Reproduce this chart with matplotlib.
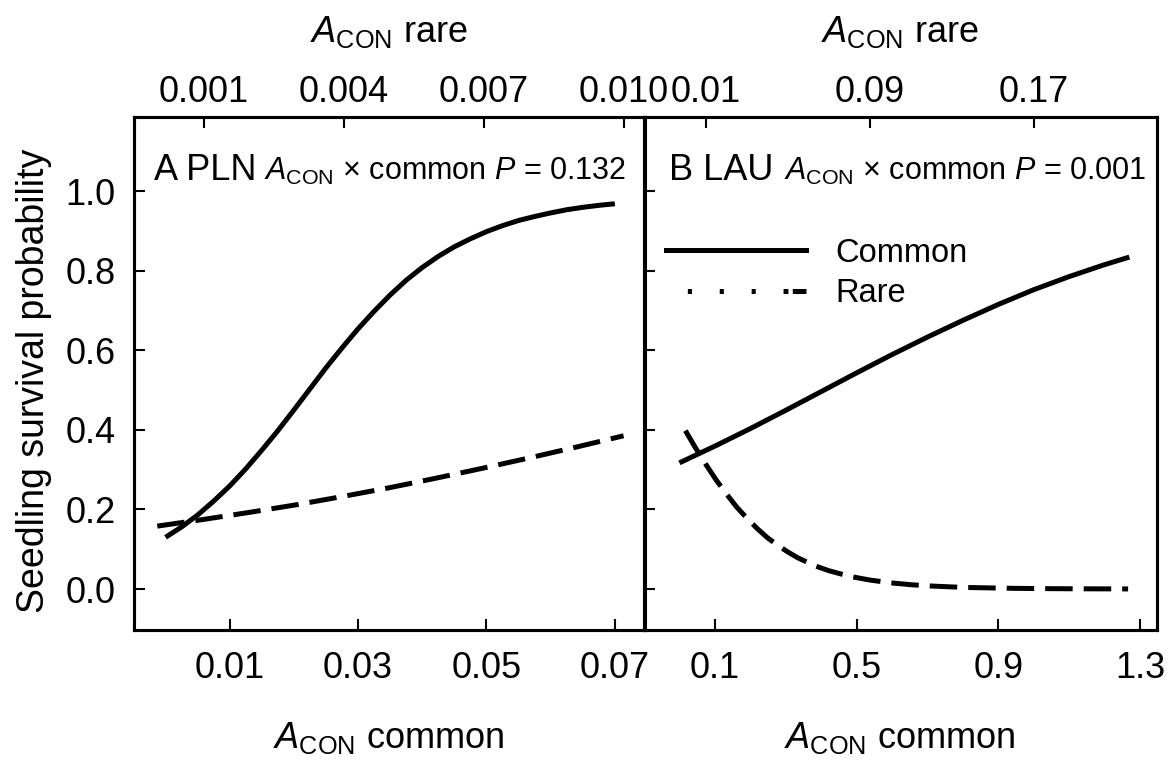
import numpy as np
import matplotlib.pyplot as plt
from matplotlib.lines import Line2D

plt.rcParams['font.family'] = ['Liberation Sans', 'DejaVu Sans']
plt.rcParams['mathtext.fontset'] = 'custom'
plt.rcParams['mathtext.rm'] = 'Liberation Sans'
plt.rcParams['mathtext.it'] = 'Liberation Sans:italic'

# Panel A (PLN) - predicted survival
pln_common_x = [0.0, 0.0025, 0.005, 0.0075, 0.01, 0.0125, 0.015, 0.0175, 0.02, 0.0225,
                0.025, 0.0275, 0.03, 0.0325, 0.035, 0.0375, 0.04, 0.0425, 0.045, 0.0475,
                0.05, 0.0525, 0.055, 0.0575, 0.06, 0.0625, 0.065, 0.0675, 0.07]
pln_common_y = [0.130, 0.156, 0.186, 0.221, 0.259, 0.302, 0.349, 0.398, 0.450, 0.503,
                0.556, 0.606, 0.654, 0.698, 0.739, 0.776, 0.808, 0.836, 0.860, 0.880,
                0.898, 0.913, 0.926, 0.936, 0.945, 0.953, 0.959, 0.964, 0.968]
pln_rare_x = [0.0, 0.001, 0.002, 0.003, 0.004, 0.005, 0.006, 0.007, 0.008, 0.009, 0.010]
pln_rare_y = [0.158, 0.175, 0.193, 0.212, 0.233, 0.255, 0.279, 0.304, 0.330, 0.357, 0.385]

# Panel B (LAU)
lau_common_x = [0.0, 0.1, 0.2, 0.3, 0.4, 0.5, 0.6, 0.7, 0.8, 0.9, 1.0, 1.1, 1.2, 1.27]
lau_common_y = [0.317, 0.359, 0.403, 0.449, 0.496, 0.543, 0.589, 0.633, 0.675, 0.715, 0.752, 0.785, 0.815, 0.834]
lau_rare_x = [0.0, 0.005, 0.01, 0.015, 0.02, 0.025, 0.03, 0.035, 0.04, 0.045, 0.05, 0.055,
              0.06, 0.065, 0.07, 0.075, 0.08, 0.09, 0.10, 0.11, 0.12, 0.13, 0.14,
              0.16, 0.18, 0.20, 0.216]
lau_rare_y = [0.398, 0.354, 0.313, 0.274, 0.239, 0.206, 0.178, 0.152, 0.129, 0.110, 0.093, 0.078,
              0.066, 0.055, 0.046, 0.039, 0.032, 0.0225, 0.0156, 0.0108, 0.0075, 0.0052, 0.0036,
              0.0017, 0.0008, 0.0004, 0.0002]

y_ticks = [0.0, 0.2, 0.4, 0.6, 0.8, 1.0]
pln_common_ticks = [0.01, 0.03, 0.05, 0.07]
pln_rare_ticks = [0.001, 0.004, 0.007, 0.010]
pln_rare_labels = ['0.001', '0.004', '0.007', '0.010']
lau_common_ticks = [0.1, 0.5, 0.9, 1.3]
lau_rare_ticks = [0.01, 0.09, 0.17]

W, H = 1171, 763
fig = plt.figure(figsize=(W / 100, H / 100), dpi=100)


def box(x0, y0, x1, y1):
    return [x0 / W, 1 - y1 / H, (x1 - x0) / W, (y1 - y0) / H]


def ftext(x, y, s, **kw):
    fig.text(x / W, 1 - y / H, s, **kw)


LW = 3.6
DASH = (5.5, 2.2)
TICK = 26


def style(ax, top):
    for sp in ax.spines.values():
        sp.set_linewidth(2.2)
    ax.tick_params(direction='in', length=8, width=1.5, labelsize=TICK)
    if top:
        ax.tick_params(axis='x', pad=5)
    else:
        ax.tick_params(axis='x', pad=15)
        ax.tick_params(axis='y', pad=13)


ax_a = fig.add_axes(box(133.5, 117, 645, 630))
ax_b = fig.add_axes(box(644, 117, 1157, 630))

for ax in (ax_a, ax_b):
    ax.set_ylim(-0.103, 1.186)
    ax.set_yticks(y_ticks)
    ax.set_yticklabels([f'{v:.1f}' for v in y_ticks])
    style(ax, False)
ax_b.tick_params(axis='y', labelleft=False)

# panel A
ax_a.set_xlim(-0.005, 0.0747)
ax_a.set_xticks(pln_common_ticks)
ax_a.set_xticklabels(['0.01', '0.03', '0.05', '0.07'])
ax_a.plot(pln_common_x, pln_common_y, color='black', lw=LW, solid_capstyle='butt')
top_a = ax_a.twiny()
top_a.set_xlim(-0.00051, 0.01046)
top_a.set_xticks(pln_rare_ticks)
top_a.set_xticklabels(pln_rare_labels)
style(top_a, True)
top_a.plot(pln_rare_x, pln_rare_y, color='black', lw=LW, dashes=DASH)

# panel B
ax_b.set_xlim(-0.10, 1.348)
ax_b.set_xticks(lau_common_ticks)
ax_b.set_xticklabels(['0.1', '0.5', '0.9', '1.3'])
ax_b.plot(lau_common_x, lau_common_y, color='black', lw=LW, solid_capstyle='butt')
top_b = ax_b.twiny()
top_b.set_xlim(-0.0202, 0.2301)
top_b.set_xticks(lau_rare_ticks)
top_b.set_xticklabels(['0.01', '0.09', '0.17'])
style(top_b, True)
top_b.plot(lau_rare_x, lau_rare_y, color='black', lw=LW, dashes=DASH)

# legend (rare handle mimics the odd dotted pattern of the original)
h_common = Line2D([], [], color='black', lw=LW)
h_rare = Line2D([], [], color='black', lw=LW,
                linestyle=(30.6, (0.82, 5.56, 0.82, 5.56, 0.82, 5.56, 0.97, 0.88, 3.58, 10.3)))
ax_b.legend([h_common, h_rare], ['Common', 'Rare'], loc='upper left',
            bbox_to_anchor=(0.043, 0.765), frameon=False, fontsize=23.5,
            handlelength=4.3, handletextpad=0.9, labelspacing=0.3,
            borderpad=0, borderaxespad=0)

# labels
acon = r'$\mathit{A}_{\mathrm{CON}}$'
ftext(34, 381, 'Seedling survival probability', rotation=90, ha='center', va='center', fontsize=27)
ftext(389, 748, acon + ' common', ha='center', va='baseline', fontsize=26)
ftext(900, 748, acon + ' common', ha='center', va='baseline', fontsize=26)
ftext(389, 42, acon + ' rare', ha='center', va='baseline', fontsize=26)
ftext(900, 42, acon + ' rare', ha='center', va='baseline', fontsize=26)

ftext(154, 180, 'A PLN', ha='left', va='baseline', fontsize=26)
ftext(626, 180, acon + r' × common $\mathit{P}$ = 0.132', ha='right', va='baseline', fontsize=22)
ftext(669, 180, 'B LAU', ha='left', va='baseline', fontsize=26)
ftext(1146, 180, acon + r' × common $\mathit{P}$ = 0.001', ha='right', va='baseline', fontsize=22)

fig.savefig('out.png', dpi=100)
